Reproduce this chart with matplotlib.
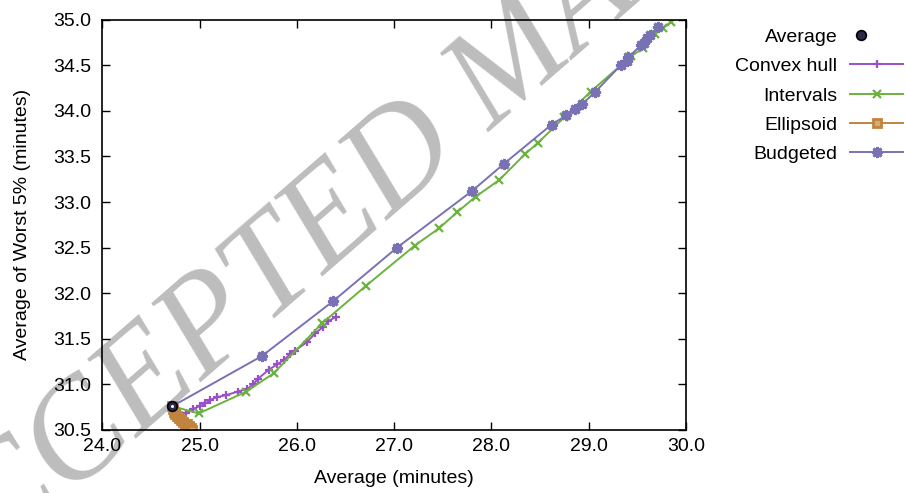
import matplotlib
matplotlib.use('Agg')
import matplotlib.pyplot as plt
from matplotlib.legend_handler import HandlerTuple

plt.rcParams['font.family'] = ['Liberation Sans', 'DejaVu Sans']

# data
avg_x = [24.72]
avg_y = [30.76]

hull_x = [24.72, 24.80, 24.86, 24.93, 25.00, 25.06, 25.11, 25.18, 25.27, 25.39, 25.49, 25.55,
          25.60, 25.71, 25.80, 25.87, 25.93, 25.98, 26.10, 26.19, 26.27, 26.32, 26.40]
hull_y = [30.76, 30.68, 30.69, 30.73, 30.76, 30.79, 30.83, 30.86, 30.88, 30.92, 30.95, 31.00,
          31.06, 31.16, 31.22, 31.27, 31.33, 31.37, 31.46, 31.56, 31.63, 31.69, 31.74]

int_x = [24.72, 24.99, 25.48, 25.76, 26.26, 26.71, 27.21, 27.46, 27.65, 27.84, 28.08, 28.35,
         28.48, 28.75, 29.02, 29.44, 29.56, 29.68, 29.77, 29.85]
int_y = [30.76, 30.68, 30.92, 31.12, 31.67, 32.08, 32.52, 32.71, 32.89, 33.06, 33.24, 33.53,
         33.65, 33.93, 34.21, 34.60, 34.69, 34.84, 34.91, 34.98]

ell_x = [24.72, 24.73, 24.74, 24.75, 24.77, 24.79, 24.81, 24.83, 24.85, 24.87, 24.89, 24.91, 24.92]
ell_y = [30.76, 30.73, 30.70, 30.67, 30.65, 30.63, 30.61, 30.59, 30.57, 30.56, 30.54, 30.52, 30.50]

bud_x = [24.72, 25.64, 26.37, 27.03, 27.80, 28.13, 28.62, 28.77, 28.86, 28.93, 29.07, 29.33,
         29.39, 29.41, 29.54, 29.57, 29.60, 29.63, 29.71]
bud_y = [30.76, 31.31, 31.91, 32.50, 33.12, 33.42, 33.85, 33.95, 34.02, 34.07, 34.21, 34.50,
         34.55, 34.59, 34.72, 34.75, 34.80, 34.83, 34.92]

x_ticks = [24.0, 25.0, 26.0, 27.0, 28.0, 29.0, 30.0]
y_ticks = [30.5, 31.0, 31.5, 32.0, 32.5, 33.0, 33.5, 34.0, 34.5, 35.0]

c_hull = '#9b4fc9'
c_int = '#6ab33e'
c_ell = '#c0843f'
c_bud = '#7872b4'
fs = 14

fig = plt.figure(figsize=(9.06, 4.93), dpi=100)
ax = fig.add_axes([0.113, 0.128, 0.644, 0.832])

# watermark, behind everything
fig.text(0.565, 0.85, 'ACCEPTED MANUSCRIPT', fontsize=100, color='#bdbdbd',
         family='Liberation Serif', style='italic', rotation=41,
         ha='center', va='center', rotation_mode='anchor', zorder=-5)
ax.set_facecolor('none')

lw = 1.4
l_hull, = ax.plot(hull_x, hull_y, color=c_hull, lw=lw, marker='+', ms=6, mew=1.6, label='Convex hull')
l_int, = ax.plot(int_x, int_y, color=c_int, lw=lw, marker='x', ms=5.5, mew=1.6, label='Intervals')
l_ell, = ax.plot(ell_x, ell_y, color=c_ell, lw=lw, marker='s', ms=6, mew=2,
                 mfc='#d8aa78', mec=c_ell, label='Ellipsoid')
l_bud, = ax.plot(bud_x, bud_y, color=c_bud, lw=lw, marker=(8, 2, 0), ms=8, mew=2.0, label='Budgeted')
a1, = ax.plot(avg_x, avg_y, ls='none', marker='o', ms=7, mfc='#2a2a48', mec='black', mew=1.2, zorder=5)
a2, = ax.plot(avg_x, avg_y, ls='none', marker='o', ms=2.2, mfc='white', mec='white', mew=0, zorder=6)

ax.set_xlim(24.0, 30.0)
ax.set_ylim(30.5, 35.0)
ax.set_xticks(x_ticks)
ax.set_yticks(y_ticks)
ax.set_xticklabels([f'{v:.1f}' for v in x_ticks])
ax.set_yticklabels([f'{v:.1f}' for v in y_ticks])
ax.tick_params(direction='in', length=6, width=1, top=True, right=True, labelsize=fs)
ax.tick_params(axis='x', pad=6)
ax.tick_params(axis='y', pad=8)
for s in ax.spines.values():
    s.set_linewidth(1.2)

ax.set_xlabel('Average (minutes)', fontsize=fs)
ax.set_ylabel('Average of Worst 5% (minutes)', fontsize=fs)
ax.xaxis.set_label_coords(0.5, -0.097)
ax.yaxis.set_label_coords(-0.122, 0.5)

handles = [(a1, a2), l_hull, l_int, l_ell, l_bud]
labels = ['Average', 'Convex hull', 'Intervals', 'Ellipsoid', 'Budgeted']
leg = fig.legend(handles, labels, loc='upper right', bbox_to_anchor=(1.0165, 0.978),
                 markerfirst=False, frameon=False, fontsize=fs, handlelength=2.75,
                 handletextpad=0.65, labelspacing=0.6,
                 handler_map={tuple: HandlerTuple(ndivide=None)})

fig.savefig('out.png', dpi=100)
